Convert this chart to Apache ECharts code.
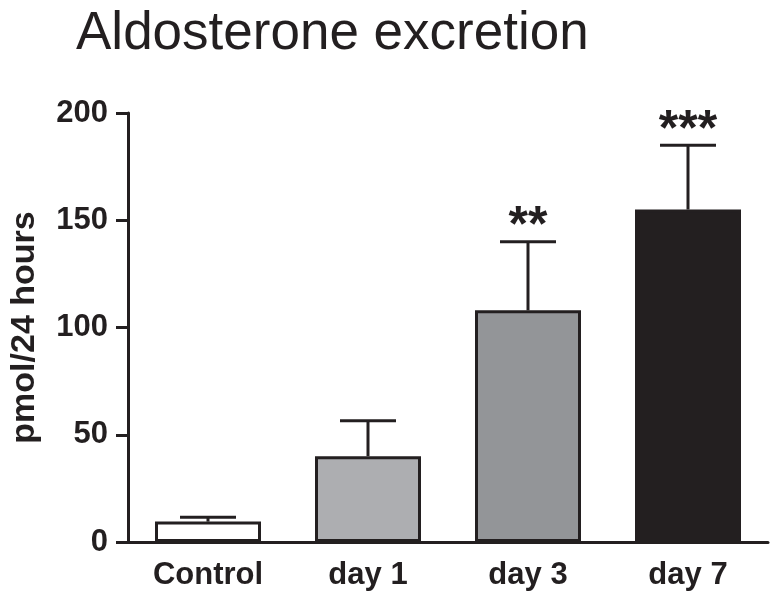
<!DOCTYPE html>
<html>
<head>
<meta charset="utf-8">
<script src="https://cdn.jsdelivr.net/npm/echarts@6/dist/echarts.min.js"></script>
<style>html,body{margin:0;padding:0;background:#fff;}#c{width:777px;height:599px;}</style>
</head>
<body>
<div id="c"></div>
<script>
const categories = ['Control', 'day 1', 'day 3', 'day 7'];
const means = [9.5, 40, 108, 155];
const errors = [2, 16.5, 32, 30];
const significance = ['', '', '**', '***'];
const yTicks = [0, 50, 100, 150, 200];

const fills = ['#ffffff', '#adaeb1', '#939598', '#231f20'];
const ink = '#231f20';

const chart = echarts.init(document.getElementById('c'), null, {renderer: 'canvas'});
chart.setOption({
  animation: false,
  backgroundColor: '#ffffff',
  title: {
    text: 'Aldosterone excretion',
    left: 71, top: 3,
    textStyle: {fontFamily: 'Liberation Sans', fontWeight: 'normal', fontSize: 53, color: ink}
  },
  grid: {left: 125, right: 9, top: 113, bottom: 57, containLabel: false},
  xAxis: {
    type: 'category',
    data: categories,
    axisLine: {lineStyle: {color: ink, width: 3}},
    axisTick: {show: false},
    axisLabel: {margin: 18, fontFamily: 'Liberation Sans', fontWeight: 'bold', fontSize: 31, color: ink}
  },
  yAxis: {
    type: 'value',
    min: yTicks[0], max: yTicks[yTicks.length - 1], interval: 50,
    name: 'pmol/24 hours',
    nameLocation: 'middle',
    nameGap: 86,
    nameTextStyle: {fontFamily: 'Liberation Sans', fontWeight: 'bold', fontSize: 34, color: ink},
    axisLine: {show: true, lineStyle: {color: ink, width: 3}},
    axisTick: {show: true, length: 12, lineStyle: {color: ink, width: 3}},
    axisLabel: {margin: 20, fontFamily: 'Liberation Sans', fontWeight: 'bold', fontSize: 31, color: ink},
    splitLine: {show: false}
  },
  series: [
    {
      type: 'bar',
      barWidth: 106,
      data: means.map((v, i) => ({value: v, itemStyle: {color: fills[i], borderColor: ink, borderWidth: 3}})),
      z: 2
    },
    {
      type: 'custom',
      z: 3,
      data: means.map((v, i) => [i, v, errors[i]]),
      renderItem: function (params, api) {
        const i = api.value(0), v = api.value(1), e = api.value(2);
        const base = api.coord([i, v]);
        const top = api.coord([i, v + e]);
        const hw = 28;
        const sig = significance[params.dataIndex];
        const children = [
          {type: 'line', shape: {x1: base[0], y1: base[1], x2: top[0], y2: top[1]}, style: {stroke: ink, lineWidth: 3}},
          {type: 'line', shape: {x1: top[0] - hw, y1: top[1], x2: top[0] + hw, y2: top[1]}, style: {stroke: ink, lineWidth: 3}}
        ];
        if (sig) {
          children.push({type: 'text', x: top[0], y: top[1] + 11, style: {text: sig, fill: ink, font: 'bold 50px "Liberation Sans"', align: 'center', verticalAlign: 'bottom'}});
        }
        return {type: 'group', children: children};
      }
    }
  ]
});
</script>
</body>
</html>
